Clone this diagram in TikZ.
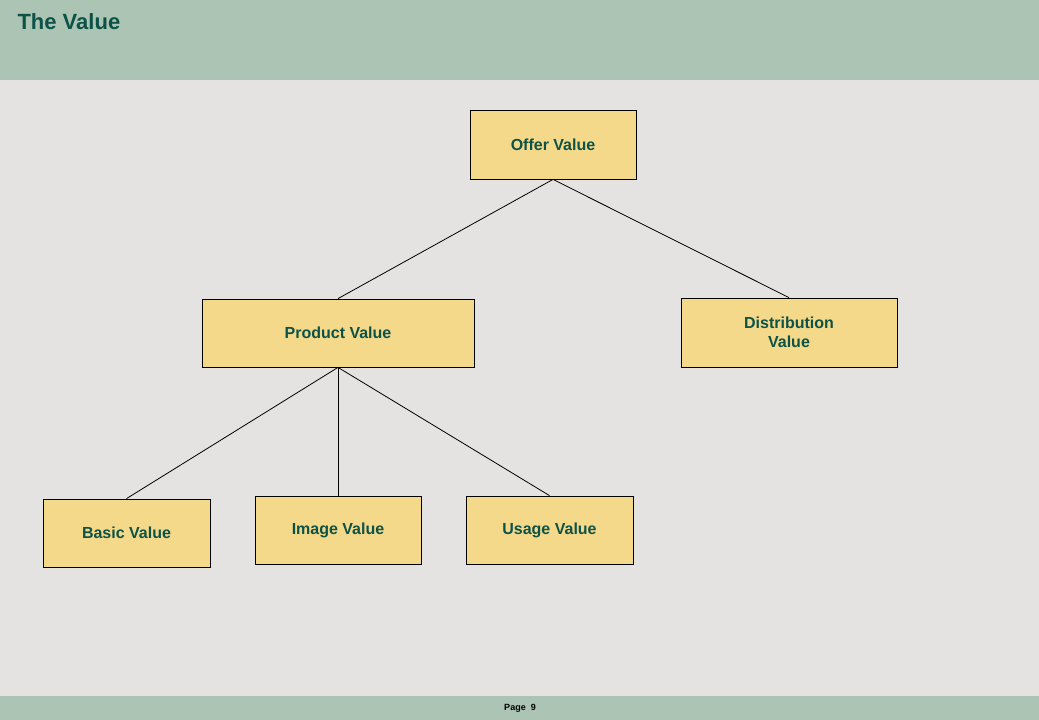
\documentclass[tikz,border=0pt]{standalone}
\usepackage{fontspec}
\setmainfont{Liberation Sans}
\definecolor{band}{HTML}{ABC4B4}
\definecolor{bg}{HTML}{E5E3E1}
\definecolor{txt}{HTML}{0D5247}
\definecolor{boxf}{HTML}{F5D98A}
\begin{document}
\begin{tikzpicture}[x=1pt,y=-1pt,
  vbox/.style={draw=black,fill=boxf,line width=0.8pt,inner sep=0pt,align=center,text=txt,font=\fontsize{16}{19}\selectfont\bfseries},
  link/.style={draw=black,line width=0.8pt}]
\useasboundingbox (0,0) rectangle (1039,720);
\fill[bg] (0,0) rectangle (1039,720);
\fill[band] (0,0) rectangle (1039,80);
\fill[band] (0,696) rectangle (1039,720);
\node[anchor=west,text=txt,font=\fontsize{22}{26}\selectfont\bfseries] (title) at (14,22) {The Value};
\node[font=\fontsize{9}{11}\selectfont\bfseries] (page) at (520,708) {Page\ \ 9};
\node[vbox,minimum width=166pt,minimum height=69pt] (offer) at (553,144.5) {Offer Value};
\node[vbox,minimum width=272pt,minimum height=68pt] (product) at (338,333) {Product Value};
\node[vbox,minimum width=216pt,minimum height=69pt] (dist) at (789,332.5) {Distribution\\Value};
\node[vbox,minimum width=167pt,minimum height=68pt] (basic) at (126.5,533) {Basic Value};
\node[vbox,minimum width=166pt,minimum height=68pt] (image) at (338,530) {Image Value};
\node[vbox,minimum width=167pt,minimum height=68pt] (usage) at (549.5,530) {Usage Value};
\draw[link] (offer.south) -- (product.north);
\draw[link] (offer.south) -- (dist.north);
\draw[link] (product.south) -- (basic.north);
\draw[link] (product.south) -- (image.north);
\draw[link] (product.south) -- (usage.north);
\end{tikzpicture}
\end{document}
